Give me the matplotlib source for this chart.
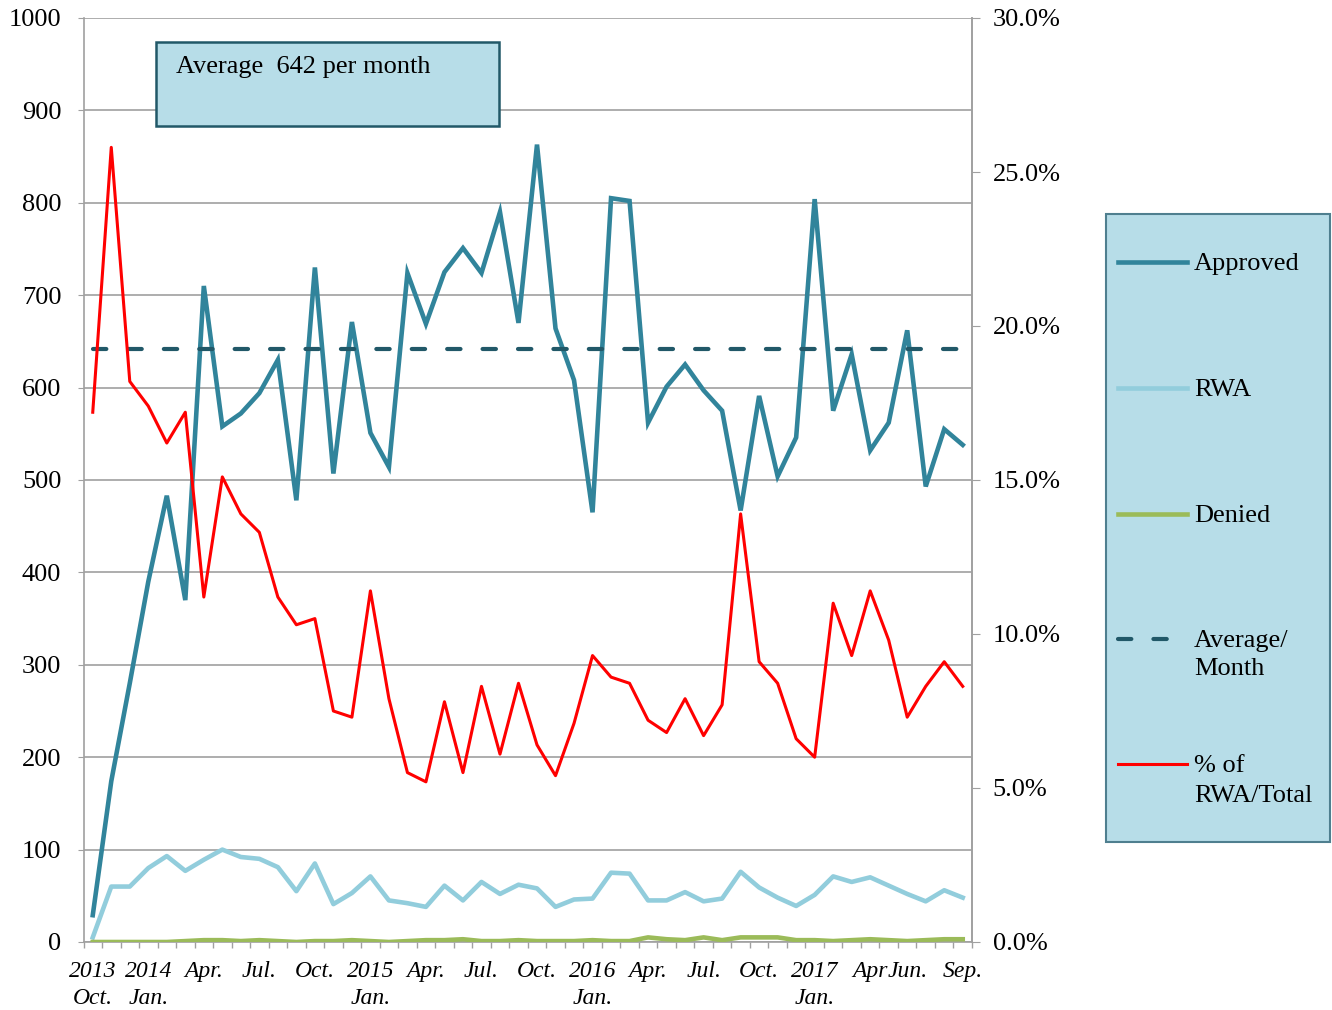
import numpy as np
import matplotlib
matplotlib.use("Agg")
import matplotlib.pyplot as plt
from matplotlib.patches import Rectangle
from matplotlib.lines import Line2D
from matplotlib.ticker import FuncFormatter

# monthly data, Oct 2013 .. Sep 2017
approved = [29, 174, 280, 390, 483, 370, 710, 558, 572, 594,
            630, 478, 730, 507, 671, 551, 514, 724, 669, 725,
            751, 724, 790, 670, 863, 664, 608, 465, 805, 802,
            562, 601, 625, 597, 575, 467, 591, 504, 546, 804,
            575, 636, 532, 562, 662, 493, 555, 538]
rwa = [5, 60, 60, 80, 93, 77, 89, 100, 92, 90,
       81, 55, 85, 41, 53, 71, 45, 42, 38, 61,
       45, 65, 52, 62, 58, 38, 46, 47, 75, 74,
       45, 45, 54, 44, 47, 76, 59, 48, 39, 51,
       71, 65, 70, 61, 52, 44, 56, 48]
denied = [0, 0, 0, 0, 0, 1, 2, 2, 1, 2,
          1, 0, 1, 1, 2, 1, 0, 1, 2, 2,
          3, 1, 1, 2, 1, 1, 1, 2, 1, 1,
          5, 3, 2, 5, 2, 5, 5, 5, 2, 2,
          1, 2, 3, 2, 1, 2, 3, 3]
pct_rwa = [17.2, 25.8, 18.2, 17.4, 16.2, 17.2, 11.2, 15.1, 13.9, 13.3,
           11.2, 10.3, 10.5, 7.5, 7.3, 11.4, 7.9, 5.5, 5.2, 7.8,
           5.5, 8.3, 6.1, 8.4, 6.4, 5.4, 7.1, 9.3, 8.6, 8.4,
           7.2, 6.8, 7.9, 6.7, 7.7, 13.9, 9.1, 8.4, 6.6, 6.0,
           11.0, 9.3, 11.4, 9.8, 7.3, 8.3, 9.1, 8.3]
avg_per_month = 642

label_pos = [0, 3, 6, 9, 12, 15, 18, 21, 24, 27, 30, 33, 36, 39, 42, 44, 47]
label_txt = ["2013\nOct.", "2014\nJan.", "Apr.", "Jul.", "Oct.", "2015\nJan.",
             "Apr.", "Jul.", "Oct.", "2016\nJan.", "Apr.", "Jul.", "Oct.",
             "2017\nJan.", "Apr", "Jun.", "Sep."]

C_APP = "#31849B"
C_RWA = "#92CDDC"
C_DEN = "#9BBB59"
C_AVG = "#215868"
C_PCT = "#FF0000"
GRID = "#A0A0A0"
BOXFILL = "#B7DDE8"

plt.rcParams['font.family'] = ['Liberation Serif', 'DejaVu Serif']

fig = plt.figure(figsize=(13.32, 10.10), dpi=100)
ax = fig.add_axes([83.5 / 1332, 68 / 1010, 888.5 / 1332, 924 / 1010])

x = np.arange(len(approved))
ax.plot(x, approved, color=C_APP, lw=3.3, solid_joinstyle='miter', zorder=3)
ax.plot(x, rwa, color=C_RWA, lw=3.3, zorder=3)
ax.plot(x, denied, color=C_DEN, lw=3.3, zorder=3)
ax.plot(x, [avg_per_month] * len(x), color=C_AVG, lw=3.0,
        dashes=(3.2, 5.3), dash_capstyle='round', zorder=4)

ax.set_xlim(-0.5, len(x) - 0.5)
ax.set_ylim(0, 1000)
ax.set_yticks(np.arange(0, 1001, 100))
ax.grid(axis='y', color=GRID, lw=1.2)
ax.set_axisbelow(True)
ax.spines['top'].set_visible(False)
for s in ['left', 'right', 'bottom']:
    ax.spines[s].set_color(GRID)
    ax.spines[s].set_linewidth(1.2)

ax.set_xticks(label_pos)
ax.set_xticklabels(label_txt, fontsize=17, style='italic', va='top',
                   linespacing=1.35)
ax.set_xticks(np.arange(-0.5, len(x), 1), minor=True)
ax.tick_params(axis='x', which='major', length=0, pad=14)
ax.tick_params(axis='x', which='minor', length=4.5, color=GRID, width=1)
ax.tick_params(axis='y', length=4, color=GRID, pad=12, labelsize=19)

ax2 = ax.twinx()
ax2.plot(x, np.array(pct_rwa) / 100, color=C_PCT, lw=2.2, zorder=3)
ax2.set_ylim(0, 0.30)
ax2.set_yticks(np.arange(0, 0.301, 0.05))
ax2.yaxis.set_major_formatter(FuncFormatter(lambda v, p: f"{v * 100:.1f}%"))
ax2.tick_params(axis='y', length=6, color=GRID, pad=9, labelsize=19)
for s in ['top', 'left', 'bottom']:
    ax2.spines[s].set_visible(False)
ax2.spines['right'].set_color(GRID)
ax2.spines['right'].set_linewidth(1.2)

# average text box
ax.add_patch(Rectangle((0.0816, 0.883), 0.386, 0.091, transform=ax.transAxes,
                       facecolor=BOXFILL, edgecolor=C_AVG, lw=1.8, zorder=5))
ax.text(0.1045, 0.947, f"Average  {avg_per_month} per month", transform=ax.transAxes,
        fontsize=19, va='center', ha='left', zorder=6)

# legend panel
fig.patches.append(Rectangle((1106 / 1332, 168 / 1010), 224 / 1332, 628 / 1010,
                             transform=fig.transFigure, facecolor=BOXFILL,
                             edgecolor="#4F7F8F", lw=1.5))
entries = [
    (262, "Approved", 1.2, dict(color=C_APP, lw=3.3)),
    (388, "RWA", 1.2, dict(color=C_RWA, lw=3.3)),
    (514, "Denied", 1.2, dict(color=C_DEN, lw=3.3)),
    (639, "Average/\nMonth", 1.35, dict(color=C_AVG, lw=3.0, dashes=(3.2, 5.3),
                                        dash_capstyle='round')),
    (764, "% of\nRWA/Total", 1.5, dict(color=C_PCT, lw=2.2)),
]
for ypix, txt, lsp, style in entries:
    yf = 1 - ypix / 1010
    fig.add_artist(Line2D([1118 / 1332, 1187 / 1332], [yf, yf],
                          transform=fig.transFigure, **style))
    fig.text(1194 / 1332, 1 - (ypix - 9) / 1010, txt, fontsize=19,
             va='top', ha='left', linespacing=lsp)

fig.savefig("out.png", dpi=100)
